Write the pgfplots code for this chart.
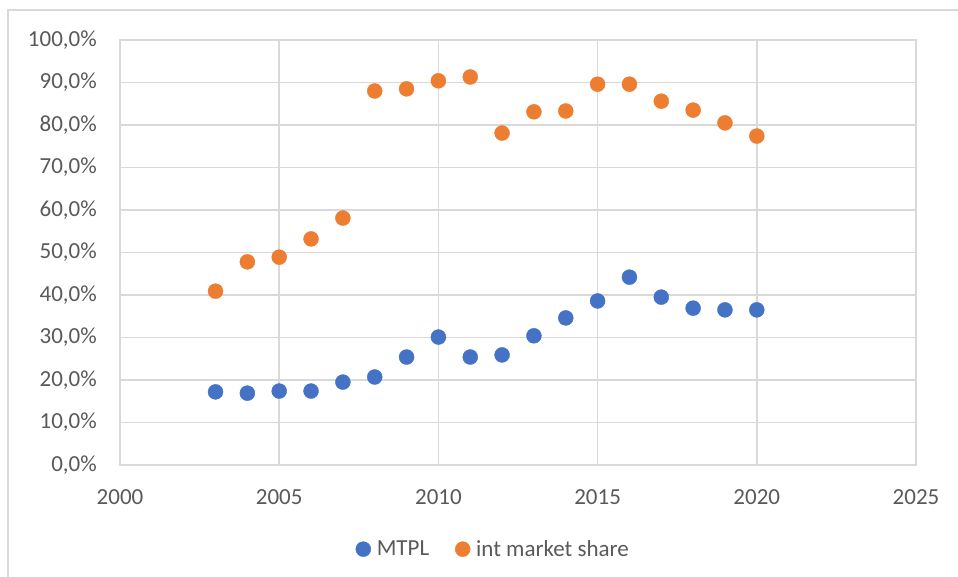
\documentclass[border=0pt]{standalone}
\usepackage{pgfplots}
\pgfplotsset{compat=1.18}
\usepackage{fontspec}
\setmainfont{Carlito}
\definecolor{cblue}{HTML}{4472C4}
\definecolor{corange}{HTML}{ED7D31}
\definecolor{cgrid}{HTML}{D9D9D9}
\definecolor{ctext}{HTML}{595959}
\begin{document}
\begin{tikzpicture}[x=1pt,y=1pt]
\useasboundingbox (0pt,0pt) rectangle (958pt,577pt);
\draw[cgrid,line width=1.5pt] (8pt,0pt) -- (8pt,567pt) -- (960pt,567pt);
\begin{axis}[
  at={(120pt,112pt)}, anchor=south west,
  scale only axis, width=796pt, height=425pt,
  xmin=2000, xmax=2025, ymin=0, ymax=100,
  xtick={2000,2005,...,2025}, ytick={0,10,...,100},
  grid=major,
  major grid style={cgrid,line width=1.5pt},
  axis line style={cgrid,line width=1.5pt},
  tick style={draw=none},
  /pgf/number format/assume math mode=true,
  /pgf/number format/1000 sep={},
  font=\fontsize{23}{27}\selectfont,
  tick label style={text=ctext},
  xticklabel style={anchor=north, inner sep=0pt, yshift=-24pt},
  yticklabel style={anchor=east, inner sep=0pt, xshift=-23pt},
  yticklabel={\pgfmathprintnumber[fixed,fixed zerofill,precision=1,use comma]{\tick}\%},
  legend columns=2,
  legend style={at={(0.469,-0.198)}, anchor=center, draw=none, fill=none,
    text=ctext, font=\fontsize{23}{27}\selectfont,
    /tikz/every odd column/.append style={column sep=4pt},
    /tikz/every even column/.append style={column sep=24pt}},
  legend image code/.code={\draw[#1] plot coordinates {(0pt,0pt)};},
]
\addplot[only marks, mark=*, mark size=7.5pt, color=cblue, mark options={draw=cblue, fill=cblue}] coordinates {
(2003,17.2)(2004,16.9)(2005,17.4)(2006,17.4)(2007,19.5)(2008,20.7)(2009,25.4)(2010,30.1)(2011,25.4)(2012,25.9)(2013,30.4)(2014,34.6)(2015,38.6)(2016,44.2)(2017,39.5)(2018,36.9)(2019,36.5)(2020,36.5)};
\addlegendentry{MTPL}
\addplot[only marks, mark=*, mark size=7.5pt, color=corange, mark options={draw=corange, fill=corange}] coordinates {
(2003,40.9)(2004,47.8)(2005,48.9)(2006,53.2)(2007,58.1)(2008,88.0)(2009,88.5)(2010,90.4)(2011,91.3)(2012,78.1)(2013,83.1)(2014,83.3)(2015,89.6)(2016,89.6)(2017,85.6)(2018,83.5)(2019,80.5)(2020,77.4)};
\addlegendentry{int market share}
\end{axis}
\end{tikzpicture}
\end{document}
